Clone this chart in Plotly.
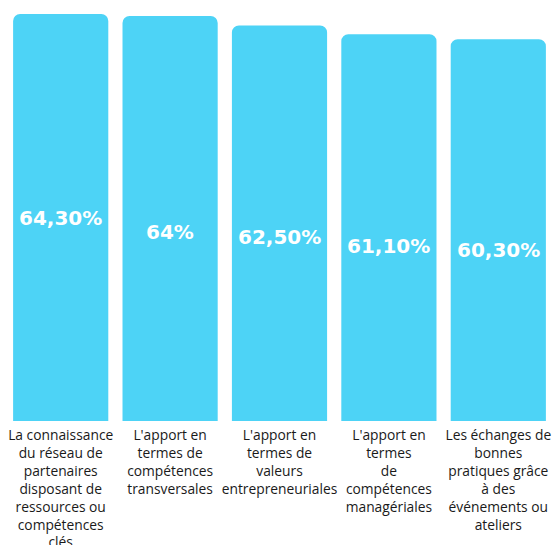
import plotly.graph_objects as go

categories = [
    "La connaissance<br>du réseau de<br>partenaires<br>disposant de<br>ressources ou<br>compétences<br>clés",
    "L'apport en<br>termes de<br>compétences<br>transversales",
    "L'apport en<br>termes de<br>valeurs<br>entrepreneuriales",
    "L'apport en<br>termes<br>de<br>compétences<br>managériales",
    "Les échanges de<br>bonnes<br>pratiques grâce<br>à des<br>événements ou<br>ateliers",
]
values = [64.3, 64.0, 62.5, 61.1, 60.3]
value_labels = ["64,30%", "64%", "62,50%", "61,10%", "60,30%"]

# vertical nudge (px) of each value label relative to the bar's middle
label_nudge = [0, -14, -14, -18, -20]

BAR_COLOR = "#4DD3F6"
TEXT_COLOR = "#1a1a1a"

fig = go.Figure(
    go.Bar(
        x=categories,
        y=values,
        marker=dict(color=BAR_COLOR, line=dict(width=0)),
        hoverinfo="skip",
    )
)

for cat, val, lab, dy in zip(categories, values, value_labels, label_nudge):
    fig.add_annotation(
        x=cat,
        y=val / 2,
        xref="x",
        yref="y",
        text=lab,
        showarrow=False,
        yshift=dy,
        font=dict(color="white", size=20, family="DejaVu Sans", weight="bold"),
    )

fig.update_layout(
    width=553,
    height=545,
    margin=dict(l=6, r=0, t=14, b=124),
    paper_bgcolor="white",
    plot_bgcolor="white",
    bargap=0.13,
    barcornerradius=7,
    showlegend=False,
    font=dict(family="Open Sans", color=TEXT_COLOR, size=12),
)
fig.update_xaxes(
    showgrid=False,
    showline=False,
    zeroline=False,
    ticks="",
    automargin=False,
    ticklabelstandoff=4,
    tickfont=dict(size=13.8, color=TEXT_COLOR, family="Open Sans"),
)
fig.update_yaxes(
    range=[0, 64.3],
    visible=False,
    showgrid=False,
    zeroline=False,
    automargin=False,
)

fig.write_html("out.html")
